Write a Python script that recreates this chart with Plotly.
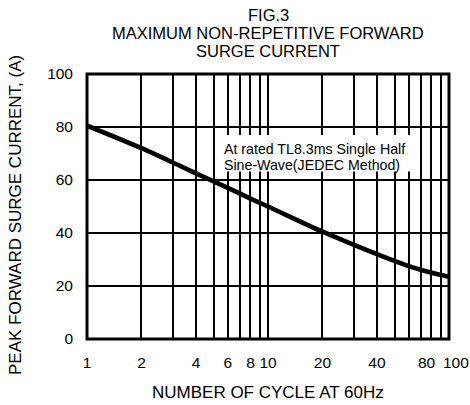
import plotly.graph_objects as go

cycles = [1, 2, 3, 4, 5, 6, 8, 10, 20, 30, 40, 60, 80, 100]
current = [80.5, 72, 66.5, 62.5, 59.5, 57, 53, 50, 40.5, 35.5, 32, 27.5, 25, 23.5]

x_grid = [1, 2, 3, 4, 5, 6, 7, 8, 9, 10, 20, 30, 40, 50, 60, 70, 80, 90, 100]
x_labels = ["1", "2", "", "4", "", "6", "", "8", "", "10", "20", "", "40", "", "", "", "", "", ""]
# the two crowded labels at the right end, placed beside their grid lines as in the original
end_labels = ["80", "100"]
end_label_px = [426.5, 455.5]
y_ticks = [0, 20, 40, 60, 80, 100]
title_lines = ["FIG.3", "MAXIMUM NON-REPETITIVE FORWARD", "SURGE CURRENT"]
note_lines = ["At rated TL8.3ms Single Half", "Sine-Wave(JEDEC Method)"]
x_title = "NUMBER OF CYCLE AT 60Hz"
y_title = "PEAK FORWARD SURGE CURRENT, (A)"

font_family = "Liberation Sans, Arial, sans-serif"

# plot area geometry (pixels)
left, right, top, bottom = 87, 449, 74, 339
w, h = right - left, bottom - top


def px_x(x):
    return (x - left) / w


def px_y(y):
    return (bottom - y) / h


fig = go.Figure()
fig.add_trace(go.Scatter(x=cycles, y=current, mode="lines",
                         line=dict(color="black", width=4.6, shape="spline"),
                         showlegend=False, hoverinfo="skip"))

annotations = []
for line, ypx in zip(title_lines, [15, 33, 51.5]):
    annotations.append(dict(text=line, xref="paper", yref="paper", x=0.5,
                            y=px_y(ypx), xanchor="center", yanchor="middle",
                            showarrow=False, font=dict(size=16.5, family=font_family)))
for line, ypx in zip(note_lines, [149, 165]):
    annotations.append(dict(text=line, xref="paper", yref="paper", x=px_x(222),
                            y=px_y(ypx), xanchor="left", yanchor="middle",
                            showarrow=False, font=dict(size=14.2, family=font_family)))
for lab, xpx in zip(end_labels, end_label_px):
    annotations.append(dict(text=lab, xref="paper", yref="paper", x=px_x(xpx),
                            y=px_y(362), xanchor="center", yanchor="middle",
                            showarrow=False, font=dict(size=15.5, family=font_family)))
annotations.append(dict(text=x_title, xref="paper", yref="paper", x=0.5,
                        y=px_y(392), xanchor="center", yanchor="middle",
                        showarrow=False, font=dict(size=17, family=font_family)))
annotations.append(dict(text=y_title, xref="paper", yref="paper", x=px_x(15),
                        y=px_y(215), xanchor="center", yanchor="middle", textangle=-90,
                        showarrow=False, font=dict(size=17, family=font_family)))

fig.update_layout(
    width=470, height=405,
    margin=dict(l=left, r=470 - right, t=top, b=405 - bottom),
    paper_bgcolor="white", plot_bgcolor="white",
    font=dict(family=font_family, size=15.5, color="black"),
    xaxis=dict(type="log", range=[0, 2], tickvals=x_grid, ticktext=x_labels,
               tickangle=0, ticklabelstandoff=12, automargin=False,
               showgrid=True, gridcolor="black", gridwidth=2, zeroline=False,
               ticks="", showline=False),
    yaxis=dict(range=[0, 100], tickvals=y_ticks, ticklabelstandoff=13, automargin=False,
               showgrid=True, gridcolor="black", gridwidth=2, zeroline=False,
               ticks="", showline=False),
    shapes=[
        dict(type="rect", xref="paper", yref="paper", x0=px_x(219), x1=px_x(414),
             y0=px_y(171.5), y1=px_y(135), fillcolor="white", line=dict(width=0),
             layer="above"),
        dict(type="rect", xref="paper", yref="paper", x0=0, x1=1, y0=0, y1=1,
             line=dict(color="black", width=3), layer="above"),
    ],
    annotations=annotations,
)

fig.write_html("out.html", config={"displayModeBar": False},
               post_script="document.body.style.margin='0';document.body.style.overflow='hidden';")
